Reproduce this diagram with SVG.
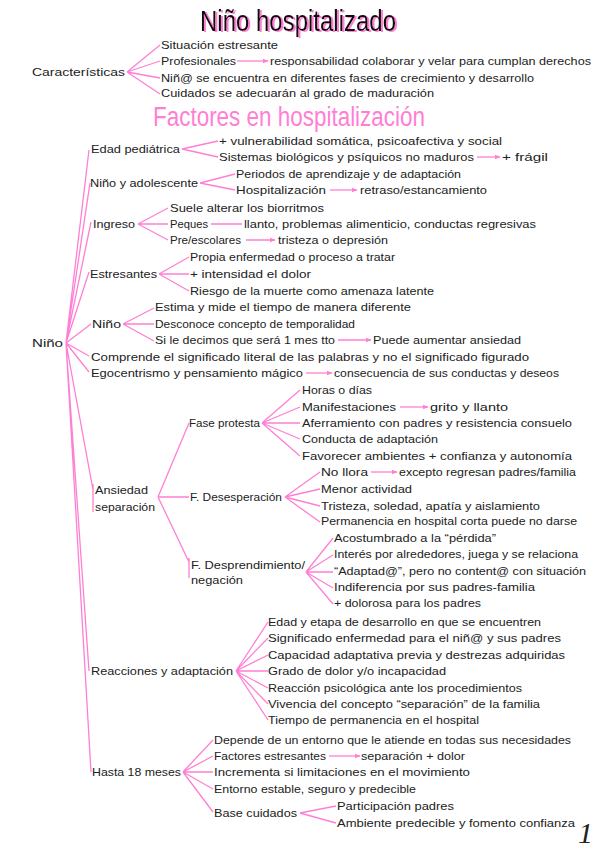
<svg xmlns="http://www.w3.org/2000/svg" width="599" height="848" viewBox="0 0 599 848">
<defs>
<marker id="ah" viewBox="0 0 10 10" refX="9" refY="5" markerWidth="6" markerHeight="6" orient="auto" markerUnits="userSpaceOnUse">
<path d="M0,1 L10,5 L0,9 Z" fill="#ff7fd4"/>
</marker>
<filter id="pinkshadow" x="-5%" y="-20%" width="110%" height="140%">
<feDropShadow dx="2" dy="1" stdDeviation="0.3" flood-color="#ff7fd4" flood-opacity="1"/>
</filter>
<style>
text{font-family:"Liberation Sans",Arial,sans-serif;font-size:11.5px;fill:#222;}
.t1{font-size:29px;fill:#111;filter:url(#pinkshadow);}
.t2{font-size:27px;fill:#ff7fd4;}
.ln{stroke:#ff7fd4;stroke-width:1.3;fill:none;}
.ar{stroke:#ff7fd4;stroke-width:1.3;fill:none;marker-end:url(#ah);}
.pg{font-family:"Liberation Serif",serif;font-size:30px;font-style:italic;}
</style>
</defs>
<rect width="599" height="848" fill="#fff"/>

<g id="titles">
<text class="t1" x="200" y="31" textLength="196" lengthAdjust="spacingAndGlyphs">Niño hospitalizado</text>
<text class="t2" x="153" y="126" textLength="272" lengthAdjust="spacingAndGlyphs">Factores en hospitalización</text>
</g>

<g id="connectors">
<path class="ln" d="M127,72 L160,45 M127,72 L160,61 M127,72 L160,78 M127,72 L160,94"/>
<path class="ar" d="M237,61 L268,61"/>
<path class="ln" d="M66,343 L89,150 M66,343 L90,183 M66,343 L91,222 M66,343 L89,272 M66,343 L91,324 M66,343 L89,356 M66,343 L89,372 M66,343 L93,490 M93,484 L93,512 M66,343 L89,671 M66,343 L91,772"/>
<path class="ln" d="M182,149 L218,141 M182,149 L218,157"/>
<path class="ar" d="M477,157 L500,157"/>
<path class="ln" d="M200,183 L235,174 M200,183 L235,190"/>
<path class="ar" d="M330,190 L357,190"/>
<path class="ln" d="M138,224 L168,208 M138,224 L168,224 M138,224 L168,240"/>
<path class="ar" d="M211,224 L242,224 M246,240 L275,240"/>
<path class="ln" d="M159,274 L189,257 M159,274 L189,274 M159,274 L189,291"/>
<path class="ln" d="M123,324 L154,308 M123,324 L154,324 M123,324 L154,341"/>
<path class="ar" d="M338,340 L371,340"/>
<path class="ar" d="M306,373 L332,373"/>
<path class="ln" d="M158,497 L189,423 M158,497 L189,497 M158,497 L189,562 M189,558 L189,578"/>
<path class="ln" d="M262,423 L300,390 M262,423 L300,407 M262,423 L300,423 M262,423 L300,439 M262,423 L300,456"/>
<path class="ar" d="M400,407 L428,407"/>
<path class="ln" d="M285,497 L320,472 M285,497 L320,489 M285,497 L320,506 M285,497 L320,522"/>
<path class="ar" d="M371,472 L397,472"/>
<path class="ln" d="M306,572 L333,538 M306,572 L333,555 M306,572 L333,572 M306,572 L333,588 M306,572 L333,604"/>
<path class="ln" d="M236,671 L268,622 M236,671 L268,638 M236,671 L268,655 M236,671 L268,671 M236,671 L268,688 M236,671 L268,704 M236,671 L268,720"/>
<path class="ln" d="M183,772 L213,740 M183,772 L213,756 M183,772 L213,772 M183,772 L213,789 M183,772 L213,812"/>
<path class="ar" d="M329,756 L360,756"/>
<path class="ln" d="M300,813 L336,806 M300,813 L336,823"/>
</g>

<g id="caracteristicas">
<text x="32" y="76" textLength="93" lengthAdjust="spacingAndGlyphs">Características</text>
</g>
<g id="car-items">
<text x="161" y="49" textLength="117" lengthAdjust="spacingAndGlyphs">Situación estresante</text>
<text x="161" y="65" textLength="75" lengthAdjust="spacingAndGlyphs">Profesionales</text>
<text x="270" y="65" textLength="321" lengthAdjust="spacingAndGlyphs">responsabilidad colaborar y velar para cumplan derechos</text>
<text x="161" y="82" textLength="373" lengthAdjust="spacingAndGlyphs">Niñ@ se encuentra en diferentes fases de crecimiento y desarrollo</text>
<text x="161" y="97" textLength="273" lengthAdjust="spacingAndGlyphs">Cuidados se adecuarán al grado de maduración</text>
</g>

<g id="nino-main">
<text x="32" y="347" textLength="31" lengthAdjust="spacingAndGlyphs">Niño</text>
</g>

<g id="edad-pediatrica">
<text x="91" y="153" textLength="89" lengthAdjust="spacingAndGlyphs">Edad pediátrica</text>
<text x="219" y="145" textLength="283" lengthAdjust="spacingAndGlyphs">+ vulnerabilidad somática, psicoafectiva y social</text>
<text x="219" y="161" textLength="255" lengthAdjust="spacingAndGlyphs">Sistemas biológicos y psíquicos no maduros</text>
<text x="502" y="161" textLength="46" lengthAdjust="spacingAndGlyphs">+ frágil</text>
</g>

<g id="nino-adolescente">
<text x="90" y="187" textLength="108" lengthAdjust="spacingAndGlyphs">Niño y adolescente</text>
<text x="236" y="178" textLength="225" lengthAdjust="spacingAndGlyphs">Periodos de aprendizaje y de adaptación</text>
<text x="236" y="194" textLength="90" lengthAdjust="spacingAndGlyphs">Hospitalización</text>
<text x="360" y="194" textLength="127" lengthAdjust="spacingAndGlyphs">retraso/estancamiento</text>
</g>

<g id="ingreso">
<text x="93" y="228" textLength="42" lengthAdjust="spacingAndGlyphs">Ingreso</text>
<text x="170" y="212" textLength="154" lengthAdjust="spacingAndGlyphs">Suele alterar los biorritmos</text>
<text x="170" y="228" textLength="38" lengthAdjust="spacingAndGlyphs">Peques</text>
<text x="244" y="228" textLength="292" lengthAdjust="spacingAndGlyphs">llanto, problemas alimenticio, conductas regresivas</text>
<text x="170" y="244" textLength="71" lengthAdjust="spacingAndGlyphs">Pre/escolares</text>
<text x="278" y="244" textLength="110" lengthAdjust="spacingAndGlyphs">tristeza o depresión</text>
</g>

<g id="estresantes">
<text x="90" y="278" textLength="67" lengthAdjust="spacingAndGlyphs">Estresantes</text>
<text x="190" y="261" textLength="205" lengthAdjust="spacingAndGlyphs">Propia enfermedad o proceso a tratar</text>
<text x="190" y="278" textLength="121" lengthAdjust="spacingAndGlyphs">+ intensidad el dolor</text>
<text x="190" y="295" textLength="244" lengthAdjust="spacingAndGlyphs">Riesgo de la muerte como amenaza latente</text>
</g>

<g id="nino-sub">
<text x="92" y="328" textLength="29" lengthAdjust="spacingAndGlyphs">Niño</text>
<text x="155" y="311" textLength="256" lengthAdjust="spacingAndGlyphs">Estima y mide el tiempo de manera diferente</text>
<text x="155" y="328" textLength="200" lengthAdjust="spacingAndGlyphs">Desconoce concepto de temporalidad</text>
<text x="155" y="344" textLength="180" lengthAdjust="spacingAndGlyphs">Si le decimos que será 1 mes tto</text>
<text x="373" y="344" textLength="148" lengthAdjust="spacingAndGlyphs">Puede aumentar ansiedad</text>
</g>

<g id="comprende">
<text x="91" y="361" textLength="438" lengthAdjust="spacingAndGlyphs">Comprende el significado literal de las palabras y no el significado figurado</text>
</g>

<g id="egocentrismo">
<text x="91" y="377" textLength="212" lengthAdjust="spacingAndGlyphs">Egocentrismo y pensamiento mágico</text>
<text x="334" y="377" textLength="225" lengthAdjust="spacingAndGlyphs">consecuencia de sus conductas y deseos</text>
</g>

<g id="ansiedad-separacion">
<text x="95" y="494" textLength="53" lengthAdjust="spacingAndGlyphs">Ansiedad</text>
<text x="95" y="511" textLength="60" lengthAdjust="spacingAndGlyphs">separación</text>
</g>

<g id="fase-protesta">
<text x="189" y="427" textLength="71" lengthAdjust="spacingAndGlyphs">Fase protesta</text>
<text x="302" y="394" textLength="70" lengthAdjust="spacingAndGlyphs">Horas o días</text>
<text x="302" y="411" textLength="94" lengthAdjust="spacingAndGlyphs">Manifestaciones</text>
<text x="430" y="411" textLength="78" lengthAdjust="spacingAndGlyphs">grito y llanto</text>
<text x="302" y="427" textLength="270" lengthAdjust="spacingAndGlyphs">Aferramiento con padres y resistencia consuelo</text>
<text x="302" y="443" textLength="136" lengthAdjust="spacingAndGlyphs">Conducta de adaptación</text>
<text x="302" y="460" textLength="270" lengthAdjust="spacingAndGlyphs">Favorecer ambientes + confianza y autonomía</text>
</g>

<g id="f-desesperacion">
<text x="190" y="501" textLength="92" lengthAdjust="spacingAndGlyphs">F. Desesperación</text>
<text x="321" y="476" textLength="47" lengthAdjust="spacingAndGlyphs">No llora</text>
<text x="399" y="476" textLength="177" lengthAdjust="spacingAndGlyphs">excepto regresan padres/familia</text>
<text x="321" y="493" textLength="91" lengthAdjust="spacingAndGlyphs">Menor actividad</text>
<text x="321" y="510" textLength="219" lengthAdjust="spacingAndGlyphs">Tristeza, soledad, apatía y aislamiento</text>
<text x="321" y="525" textLength="256" lengthAdjust="spacingAndGlyphs">Permanencia en hospital corta puede no darse</text>
</g>

<g id="f-desprendimiento">
<text x="191" y="569" textLength="114" lengthAdjust="spacingAndGlyphs">F. Desprendimiento/</text>
<text x="191" y="584" textLength="52" lengthAdjust="spacingAndGlyphs">negación</text>
<text x="334" y="542" textLength="162" lengthAdjust="spacingAndGlyphs">Acostumbrado a la “pérdida”</text>
<text x="334" y="558" textLength="244" lengthAdjust="spacingAndGlyphs">Interés por alrededores, juega y se relaciona</text>
<text x="334" y="575" textLength="252" lengthAdjust="spacingAndGlyphs">“Adaptad@”, pero no content@ con situación</text>
<text x="334" y="591" textLength="201" lengthAdjust="spacingAndGlyphs">Indiferencia por sus padres-familia</text>
<text x="334" y="607" textLength="147" lengthAdjust="spacingAndGlyphs">+ dolorosa para los padres</text>
</g>

<g id="reacciones">
<text x="91" y="675" textLength="142" lengthAdjust="spacingAndGlyphs">Reacciones y adaptación</text>
<text x="268" y="626" textLength="273" lengthAdjust="spacingAndGlyphs">Edad y etapa de desarrollo en que se encuentren</text>
<text x="268" y="642" textLength="293" lengthAdjust="spacingAndGlyphs">Significado enfermedad para el niñ@ y sus padres</text>
<text x="268" y="659" textLength="297" lengthAdjust="spacingAndGlyphs">Capacidad adaptativa previa y destrezas adquiridas</text>
<text x="268" y="675" textLength="178" lengthAdjust="spacingAndGlyphs">Grado de dolor y/o incapacidad</text>
<text x="268" y="692" textLength="254" lengthAdjust="spacingAndGlyphs">Reacción psicológica ante los procedimientos</text>
<text x="268" y="708" textLength="272" lengthAdjust="spacingAndGlyphs">Vivencia del concepto “separación” de la familia</text>
<text x="268" y="724" textLength="211" lengthAdjust="spacingAndGlyphs">Tiempo de permanencia en el hospital</text>
</g>

<g id="hasta-18-meses">
<text x="92" y="776" textLength="89" lengthAdjust="spacingAndGlyphs">Hasta 18 meses</text>
<text x="214" y="744" textLength="357" lengthAdjust="spacingAndGlyphs">Depende de un entorno que le atiende en todas sus necesidades</text>
<text x="214" y="760" textLength="112" lengthAdjust="spacingAndGlyphs">Factores estresantes</text>
<text x="361" y="760" textLength="104" lengthAdjust="spacingAndGlyphs">separación + dolor</text>
<text x="214" y="776" textLength="256" lengthAdjust="spacingAndGlyphs">Incrementa si limitaciones en el movimiento</text>
<text x="214" y="793" textLength="202" lengthAdjust="spacingAndGlyphs">Entorno estable, seguro y predecible</text>
</g>

<g id="base-cuidados">
<text x="214" y="817" textLength="83" lengthAdjust="spacingAndGlyphs">Base cuidados</text>
<text x="337" y="810" textLength="117" lengthAdjust="spacingAndGlyphs">Participación padres</text>
<text x="337" y="827" textLength="238" lengthAdjust="spacingAndGlyphs">Ambiente predecible y fomento confianza</text>
</g>

<g id="page-number">
<text class="pg" x="578" y="843">1</text>
</g>
</svg>
